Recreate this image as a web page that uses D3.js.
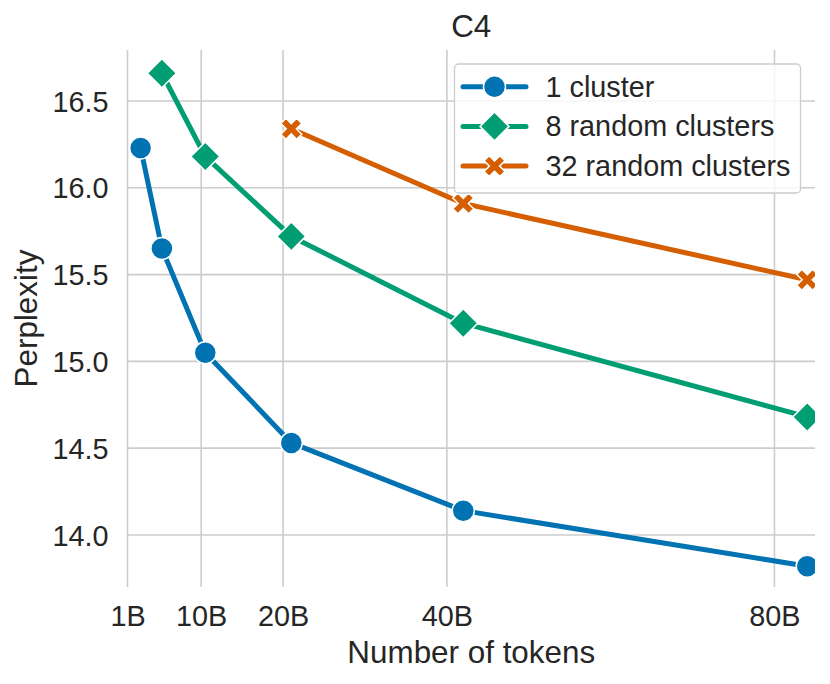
<!DOCTYPE html>
<html>
<head>
<meta charset="utf-8">
<script src="https://cdn.jsdelivr.net/npm/d3@7"></script>
<style>
  body { margin: 0; background: #fff; }
  text { font-family: "Liberation Sans", Arial, sans-serif; fill: #262626; }
</style>
</head>
<body>
<svg id="chart" width="830" height="684"></svg>
<script>
// values (tokens in billions)
const tokens1 = [2.6, 5.2, 10.5, 21, 42, 84];
const ppl1 = [16.23, 15.65, 15.05, 14.53, 14.14, 13.82];
const tokens8 = [5.2, 10.5, 21, 42, 84];
const ppl8 = [16.66, 16.18, 15.72, 15.22, 14.68];
const tokens32 = [21, 42, 84];
const ppl32 = [16.34, 15.91, 15.47];

const seriesNames = ['1 cluster', '8 random clusters', '32 random clusters'];
const colours = ['#0173b2', '#029e73', '#d55e00'];
const markerTypes = ['circle', 'diamond', 'x'];
const xTicks = [1, 10, 20, 40, 80];
const yTicks = [14.0, 14.5, 15.0, 15.5, 16.0, 16.5];

const series = [
  { name: seriesNames[0], colour: colours[0], marker: markerTypes[0], values: tokens1.map((t, i) => ({ t, p: ppl1[i] })) },
  { name: seriesNames[1], colour: colours[1], marker: markerTypes[1], values: tokens8.map((t, i) => ({ t, p: ppl8[i] })) },
  { name: seriesNames[2], colour: colours[2], marker: markerTypes[2], values: tokens32.map((t, i) => ({ t, p: ppl32[i] })) }
];

const width = 830, height = 684;
const margin = { top: 50, right: 15, bottom: 97, left: 127.5 };
const labelSize = 31.4;   // title + axis labels
const tickSize = 28.8;    // tick labels + legend

const svg = d3.select('svg#chart');

const xScale = d3.scaleLinear()
  .domain([1, 84.95])
  .range([margin.left, width - margin.right]);

const yScale = d3.scaleLinear()
  .domain([13.7, 16.794])
  .range([height - margin.bottom, margin.top]);

// marker shapes
const markerPath = type => {
  if (type === 'circle') return d3.symbol().type(d3.symbolCircle).size(Math.PI * 11 * 11)();
  if (type === 'diamond') {
    const r = 14.5;
    return `M0,${-r}L${r},0L0,${r}L${-r},0Z`;
  }
  // filled X like matplotlib 'X'
  const a = 11.2, w = 3.6;
  const pts = [[w, a], [w, w], [a, w], [a, -w], [w, -w], [w, -a], [-w, -a], [-w, -w], [-a, -w], [-a, w], [-w, w], [-w, a]];
  const c = Math.SQRT1_2;
  return 'M' + pts.map(([px, py]) => [(px - py) * c, (px + py) * c].join(',')).join('L') + 'Z';
};

// grid
const grid = svg.append('g').attr('class', 'grid');
grid.selectAll('line.v')
  .data(xTicks)
  .join('line')
    .attr('class', 'v')
    .attr('x1', d => xScale(d)).attr('x2', d => xScale(d))
    .attr('y1', margin.top).attr('y2', height - margin.bottom)
    .attr('stroke', '#cccccc').attr('stroke-width', 1.6);
grid.selectAll('line.h')
  .data(yTicks)
  .join('line')
    .attr('class', 'h')
    .attr('x1', margin.left).attr('x2', width - margin.right)
    .attr('y1', d => yScale(d)).attr('y2', d => yScale(d))
    .attr('stroke', '#cccccc').attr('stroke-width', 1.6);

// axes (labels only, no spines or ticks)
const xAxis = d3.axisBottom(xScale)
  .tickValues(xTicks)
  .tickFormat(d => d + 'B')
  .tickSize(0)
  .tickPadding(0);
const gx = svg.append('g')
  .attr('transform', `translate(0,${height - margin.bottom})`)
  .call(xAxis);
gx.select('.domain').remove();
gx.selectAll('text')
  .attr('y', 39).attr('dy', 0)
  .style('font-size', tickSize + 'px');

const yAxis = d3.axisLeft(yScale)
  .tickValues(yTicks)
  .tickFormat(d3.format('.1f'))
  .tickSize(0)
  .tickPadding(0);
const gy = svg.append('g')
  .attr('transform', `translate(${margin.left},0)`)
  .call(yAxis);
gy.select('.domain').remove();
gy.selectAll('text')
  .attr('x', -19).attr('dy', '0.35em')
  .style('font-size', tickSize + 'px');

svg.selectAll('.tick text').attr('fill', '#262626').style('font-family', '"Liberation Sans", Arial, sans-serif');

// plot clip
svg.append('clipPath').attr('id', 'plot-clip')
  .append('rect')
    .attr('x', margin.left).attr('y', margin.top)
    .attr('width', width - margin.left - margin.right)
    .attr('height', height - margin.top - margin.bottom);

const plot = svg.append('g').attr('clip-path', 'url(#plot-clip)');

const line = d3.line()
  .x(d => xScale(d.t))
  .y(d => yScale(d.p));

const seriesG = plot.selectAll('g.series')
  .data(series)
  .join('g')
    .attr('class', 'series');

seriesG.append('path')
  .attr('d', d => line(d.values))
  .attr('fill', 'none')
  .attr('stroke', d => d.colour)
  .attr('stroke-width', 5)
  .attr('stroke-linejoin', 'round')
  .attr('stroke-linecap', 'round');

seriesG.selectAll('path.marker')
  .data(d => d.values.map(v => ({ ...v, colour: d.colour, marker: d.marker })))
  .join('path')
    .attr('class', 'marker')
    .attr('transform', d => `translate(${xScale(d.t)},${yScale(d.p)})`)
    .attr('d', d => markerPath(d.marker))
    .attr('fill', d => d.colour)
    .attr('stroke', '#ffffff')
    .attr('stroke-width', 1.5);

// title and axis labels
svg.append('text')
  .attr('x', (margin.left + width - margin.right) / 2)
  .attr('y', 36.5)
  .attr('text-anchor', 'middle')
  .style('font-size', labelSize + 'px')
  .text('C4');

svg.append('text')
  .attr('x', (margin.left + width - margin.right) / 2)
  .attr('y', 663.3)
  .attr('text-anchor', 'middle')
  .style('font-size', labelSize + 'px')
  .text('Number of tokens');

svg.append('text')
  .attr('transform', `translate(36.5,${(margin.top + height - margin.bottom) / 2}) rotate(-90)`)
  .attr('text-anchor', 'middle')
  .style('font-size', labelSize + 'px')
  .text('Perplexity');

// legend
const legend = svg.append('g').attr('transform', 'translate(454.5,64)');
legend.append('rect')
  .attr('width', 346).attr('height', 129)
  .attr('rx', 4)
  .attr('fill', '#ffffff').attr('fill-opacity', 0.8)
  .attr('stroke', '#cccccc').attr('stroke-width', 1.3);

const legendRows = legend.selectAll('g.row')
  .data(series)
  .join('g')
    .attr('class', 'row')
    .attr('transform', (d, i) => `translate(0,${22.7 + i * 39.7})`);

legendRows.append('line')
  .attr('x1', 8.5).attr('x2', 71.5)
  .attr('stroke', d => d.colour)
  .attr('stroke-width', 5)
  .attr('stroke-linecap', 'round');

legendRows.append('path')
  .attr('transform', 'translate(40,0)')
  .attr('d', d => markerPath(d.marker))
  .attr('fill', d => d.colour)
  .attr('stroke', '#ffffff')
  .attr('stroke-width', 1.5);

legendRows.append('text')
  .attr('x', 91)
  .attr('dy', '0.35em')
  .style('font-size', tickSize + 'px')
  .text(d => d.name);
</script>
</body>
</html>
